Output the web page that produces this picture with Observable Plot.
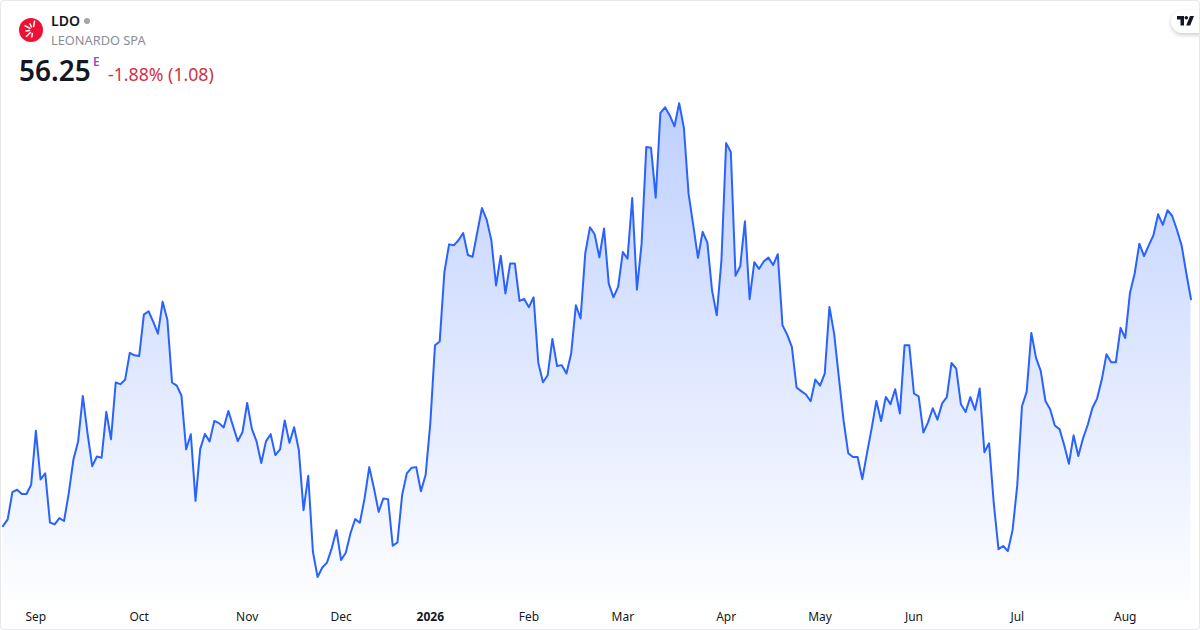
<!DOCTYPE html>
<html><head><meta charset="utf-8">
<script src="https://cdn.jsdelivr.net/npm/d3@7"></script>
<script src="https://cdn.jsdelivr.net/npm/@observablehq/plot@0.6"></script>
<style>
html,body{margin:0;padding:0;background:#fff;}
#card{position:relative;width:1198px;height:628px;border:1px solid #e8e8ea;border-radius:4px;overflow:hidden;font-family:"Noto Sans",sans-serif;background:#fff;}
#chart{position:absolute;left:-1px;top:-1px;}
#chart svg{display:block;}
.h{position:absolute;white-space:nowrap;line-height:1;}
</style></head><body>
<div id="card">
<div id="chart"></div>
<svg class="h" style="left:18px;top:17px" width="24" height="24" viewBox="0 0 24 24"><circle cx="12" cy="12" r="12" fill="#ee1133"/><g id="rays" stroke="#fff" stroke-width="1.5" stroke-linecap="round"></g></svg>
<div class="h" style="left:50px;top:13px;font-size:14px;font-weight:600;color:#131722">LDO</div>
<div class="h" style="left:83px;top:17px;width:6px;height:6px;border-radius:50%;background:#a3a6af"></div>
<div class="h" style="left:50px;top:33px;font-size:12.8px;color:#8a8e99">LEONARDO SPA</div>
<div class="h" style="left:18px;top:55px;font-size:28px;font-weight:600;color:#131722">56.25</div>
<div class="h" style="left:92px;top:55px;font-size:12px;font-weight:600;color:#ab47bc">E</div>
<div class="h" style="left:107px;top:65px;font-size:17.7px;color:#d13242">-1.88% (1.08)</div>
<div class="h" style="left:1170px;top:9px;width:40px;height:23px;border-radius:12px;background:#fff;box-shadow:0 2px 4px rgba(0,0,0,.2)"></div>
<svg class="h" style="left:1176px;top:15px" width="18" height="11" viewBox="0 0 18 11"><path d="M0 0H7V9.5H3.5V3.5H0Z" fill="#131722"/><circle cx="9.3" cy="1.8" r="1.8" fill="#131722"/><path d="M13 0H17L13.2 9.5H9.2Z" fill="#131722"/></svg>
</div>
<script>
const prices = [46.82,47.10,48.23,48.33,48.15,48.15,48.54,50.78,48.76,49.01,46.97,46.89,47.15,47.03,48.18,49.59,50.34,52.23,50.67,49.31,49.71,49.66,51.57,50.43,52.79,52.72,52.90,54.02,53.92,53.89,55.61,55.75,55.31,54.82,56.15,55.40,52.79,52.66,52.25,50.01,50.64,47.87,50.03,50.65,50.34,51.19,51.10,50.92,51.60,50.97,50.35,50.72,51.94,50.86,50.34,49.44,50.34,50.64,49.77,50.01,51.21,50.28,50.93,49.98,47.48,48.91,45.75,44.70,45.10,45.30,45.89,46.65,45.41,45.71,46.52,47.11,46.96,47.97,49.27,48.39,47.41,47.97,47.94,46.00,46.14,48.11,49.01,49.24,49.27,48.27,48.94,51.09,54.34,54.49,57.38,58.53,58.49,58.70,59.00,58.09,58.01,59.03,60.04,59.56,58.70,56.82,58.06,56.49,57.74,57.74,56.18,56.26,55.92,56.33,53.60,52.80,53.09,54.60,53.47,53.51,53.16,53.99,56.00,55.45,58.16,59.24,58.95,57.99,59.19,56.90,56.33,56.76,58.21,57.94,60.46,56.65,58.56,62.58,62.55,60.47,64.00,64.23,63.89,63.44,64.40,63.38,60.64,59.32,57.97,59.05,58.60,56.62,55.58,57.87,62.74,62.37,57.23,57.62,59.49,56.25,57.79,57.51,57.82,57.98,57.67,58.12,55.17,54.78,54.27,52.58,52.43,52.29,52.01,52.91,52.66,53.16,55.93,54.82,53.01,51.22,49.85,49.69,49.69,48.77,49.85,50.89,52.02,51.19,52.19,51.89,52.51,51.50,54.34,54.34,52.33,52.21,50.71,51.13,51.72,51.24,51.92,52.18,53.60,53.37,51.88,51.56,52.18,51.65,52.54,49.89,50.26,47.76,45.86,45.99,45.78,46.65,48.52,51.80,52.40,54.85,53.81,53.27,52.02,51.68,51.00,50.85,50.18,49.41,50.59,49.73,50.46,51.02,51.73,52.12,52.91,53.96,53.63,53.63,55.06,54.64,56.51,57.32,58.56,58.04,58.49,58.91,59.78,59.34,59.95,59.71,59.14,58.49,57.33,56.25];
const tickIndex = [7,29,52,72,112,132,154,174,194,216,239];
const tickLabels = ["Sep","Oct","Nov","Dec","Feb","Mar","Apr","May","Jun","Jul","Aug"];
const yearIndex = [91];
const yearLabels = ["2026"];
const areaBase = 43.75;
const points = prices.map((price,i)=>({i,price}));
const lineColor = "#2962ff";
const rays = d3.select("#rays");
d3.range(6).forEach(k=>{const a=(100+k*36)*Math.PI/180;rays.append("line").attr("x1",14+3.5*Math.cos(a)).attr("y1",12+3.5*Math.sin(a)).attr("x2",14+(k%2?9:7)*Math.cos(a)).attr("y2",12+(k%2?9:7)*Math.sin(a));});
const defs = () => {
  const d = d3.create("svg:defs");
  const g = d.append("linearGradient").attr("id","fade").attr("gradientUnits","userSpaceOnUse").attr("x1",0).attr("x2",0).attr("y1",102).attr("y2",600);
  g.append("stop").attr("offset",0).attr("stop-color",lineColor).attr("stop-opacity",0.3);
  g.append("stop").attr("offset",1).attr("stop-color",lineColor).attr("stop-opacity",0.01);
  return d.node();
};
const fmt = (ids,labels)=> v => labels[ids.indexOf(v)];
const plot = Plot.plot({
  width:1200,height:630,marginTop:0,marginLeft:0,marginRight:0,marginBottom:17,
  style:{background:"transparent",fontFamily:"Noto Sans",overflow:"visible"},
  x:{type:"linear",domain:[0,253],range:[2.5,1191.5],axis:null},
  y:{type:"linear",domain:[44,64],range:[593.9,112.4],axis:null},
  marks:[
    defs,
    Plot.areaY(points,{x:"i",y1:areaBase,y2:"price",fill:"url(#fade)",curve:"linear"}),
    Plot.lineY(points,{x:"i",y:"price",stroke:lineColor,strokeWidth:2,curve:"linear"}),
    Plot.axisX(tickIndex,{anchor:"bottom",tickSize:0,tickPadding:0,tickFormat:fmt(tickIndex,tickLabels),fontSize:12,fill:"#131722",label:null}),
    Plot.axisX(yearIndex,{anchor:"bottom",tickSize:0,tickPadding:0,tickFormat:fmt(yearIndex,yearLabels),fontSize:12,fontWeight:700,fill:"#131722",label:null})
  ]
});
document.getElementById("chart").appendChild(plot);
</script>
</body></html>
